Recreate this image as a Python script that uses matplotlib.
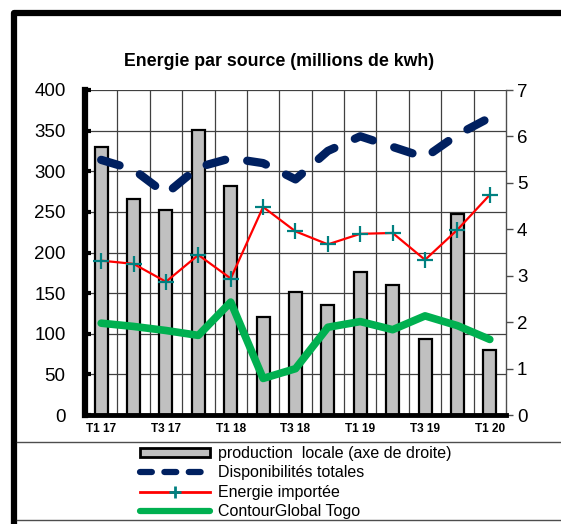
import matplotlib
matplotlib.use('Agg')
import matplotlib.pyplot as plt
from matplotlib.lines import Line2D
from matplotlib.patches import Patch, Rectangle

plt.rcParams['font.family'] = ['Liberation Sans', 'DejaVu Sans']

# data
quarters = ['T1 17', 'T2 17', 'T3 17', 'T4 17', 'T1 18', 'T2 18', 'T3 18',
            'T4 18', 'T1 19', 'T2 19', 'T3 19', 'T4 19', 'T1 20']
tick_labels = ['T1 17', '', 'T3 17', '', 'T1 18', '', 'T3 18', '',
               'T1 19', '', 'T3 19', '', 'T1 20']
production_locale = [5.78, 4.65, 4.42, 6.14, 4.93, 2.12, 2.65, 2.37, 3.07, 2.81, 1.63, 4.34, 1.41]
disponibilites = [314, 302, 272, 305, 316, 310, 290, 325, 343, 330, 317, 345, 366]
energie_importee = [190, 186, 164, 197, 168, 256, 226, 210, 223, 224, 191, 228, 271]
contourglobal = [113, 109, 104, 98, 139, 45, 57, 108, 115, 105, 122, 110, 93]

W, H = 561, 524
fig = plt.figure(figsize=(W / 100, H / 100), dpi=100)

rect = [85 / W, 1 - 415 / H, (506 - 85) / W, (415 - 90) / H]
x = list(range(len(quarters)))

# base axes: grid and left scale
ax = fig.add_axes(rect)
ax.set_xlim(-0.5, len(quarters) - 0.5)
ax.set_ylim(0, 400)
ax.set_yticks(range(0, 401, 50))
ax.set_xticks(x)
ax.set_xticklabels(tick_labels, fontsize=8.5, fontweight='bold')
ax.set_xticks([i + 0.5 for i in x[:-1]], minor=True)
ax.grid(True, which='major', axis='y', color='0.25', lw=0.9)
ax.grid(True, which='minor', axis='x', color='0.25', lw=0.9)
ax.tick_params(axis='x', which='both', length=0, pad=6)
ax.tick_params(axis='y', direction='in', length=4, width=3, pad=14, labelsize=13.5)
for s in ax.spines.values():
    s.set_visible(False)

# bars on the right scale
axb = ax.twinx()
axb.set_ylim(0, 7)
axb.bar(x, production_locale, width=0.4, color='#C0C0C0', edgecolor='black', lw=1.6, zorder=2)
axb.tick_params(axis='y', direction='out', length=5, width=1, pad=3, labelsize=13.5, color='0.3')
for k in ['left', 'top', 'bottom']:
    axb.spines[k].set_visible(False)
axb.spines['right'].set_color('0.3')
axb.spines['right'].set_linewidth(1)

# lines on the left scale, drawn on top
axl = ax.twinx()
axl.set_ylim(0, 400)
axl.yaxis.set_visible(False)
axl.plot(x, disponibilites, color='#002060', lw=6, dash_capstyle='round',
         linestyle=(0, (2.3, 2.7)))
axl.plot(x, energie_importee, color='#FF0000', lw=1.6, marker='+', ms=12,
         mec='#008080', mew=1.6)
axl.plot(x, contourglobal, color='#00B050', lw=5.5, solid_capstyle='round')
axl.spines['top'].set_visible(False)
axl.spines['right'].set_visible(False)
axl.spines['left'].set_linewidth(4.5)
axl.spines['bottom'].set_linewidth(3.5)

fig.text(279 / W, 1 - 62 / H, 'Energie par source (millions de kwh)',
         ha='center', va='center', fontsize=12.8, fontweight='bold')

handles = [
    Patch(facecolor='#C0C0C0', edgecolor='black', lw=2),
    Line2D([], [], color='#002060', lw=4.5, dash_capstyle='round', linestyle=(0, (1.9, 2.0))),
    Line2D([], [], color='#FF0000', lw=2, marker='+', ms=8, mec='#008080', mew=2),
    Line2D([], [], color='#00B050', lw=4.5, solid_capstyle='round'),
]
labels = ['production  locale (axe de droite)', 'Disponibilités totales',
          'Energie importée', 'ContourGlobal Togo']
fig.legend(handles, labels, loc='upper left', bbox_to_anchor=(129 / W, 1 - 435 / H),
           frameon=False, fontsize=11.5, handlelength=4.4, handleheight=0.5,
           handletextpad=0.45, labelspacing=0.27, borderpad=0.2, numpoints=1)

# outer frame and legend separators
fig.patches.append(Rectangle((14 / W, -0.2), 1.5, 1.2 - 13 / H, transform=fig.transFigure,
                             fill=False, lw=4.5, ec='black', joinstyle='round'))
fig.lines.append(Line2D([17 / W, 1], [1 - 441.5 / H] * 2, transform=fig.transFigure,
                        color='0.3', lw=1))
fig.lines.append(Line2D([17 / W, 1], [1 - 520 / H] * 2, transform=fig.transFigure,
                        color='0.3', lw=1))

fig.savefig('out.png', dpi=100)
